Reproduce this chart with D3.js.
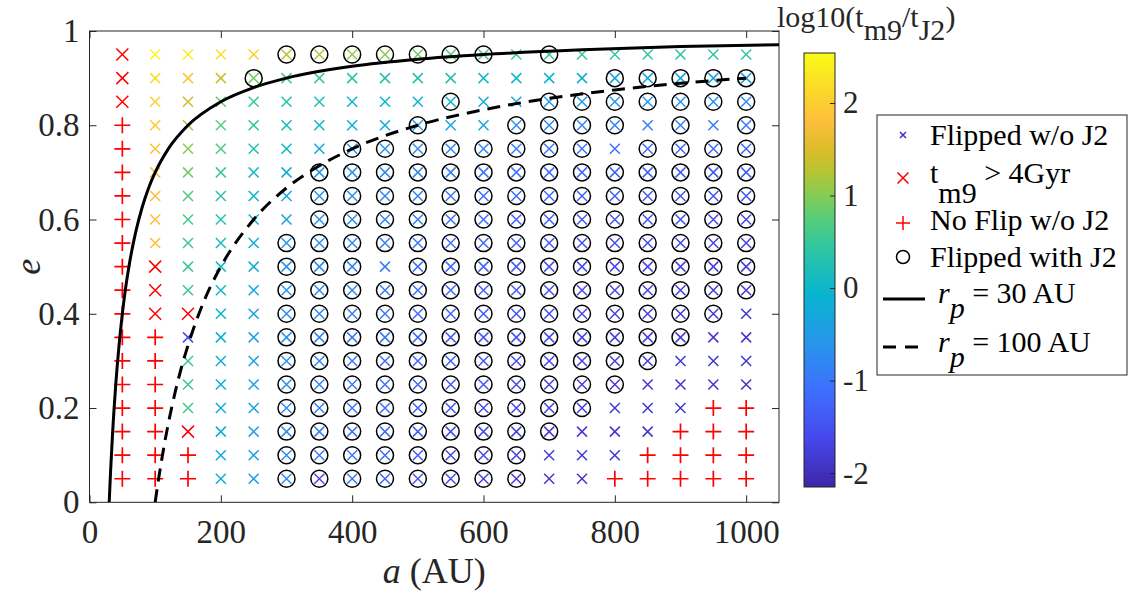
<!DOCTYPE html>
<html>
<head>
<meta charset="utf-8">
<script src="https://cdn.jsdelivr.net/npm/d3@7"></script>
<style>
  body { margin: 0; background: #fff; }
  svg { display: block; font-family: "Liberation Serif", "Times New Roman", serif; }
  .axis text { fill: #262626; }
  .axis line { stroke: #262626; }
</style>
</head>
<body>
<svg id="chart" width="1133" height="594"></svg>
<script>
// semi-major axis (AU) columns and eccentricity rows
var aValues = [50, 100, 150, 200, 250, 300, 350, 400, 450, 500, 550, 600, 650, 700, 750, 800, 850, 900, 950, 1000];
var eValues = [0.95, 0.90, 0.85, 0.80, 0.75, 0.70, 0.65, 0.60, 0.55, 0.50, 0.45, 0.40, 0.35, 0.30, 0.25, 0.20, 0.15, 0.10, 0.05];

// P = no flip w/o J2, R = t_m9 > 4Gyr, x = flipped w/o J2, O = flipped w/o J2 and with J2
var markerRows = [
  "RxxxxOOOOOOOxOxxxxxx",
  "RxxxOxxxxxxxxxxOOOOO",
  "RxxxxxxxxxOxxOOOOOOO",
  "PxxxxxxxxOxxOOOOxOxO",
  "PxxxxxxOOOOOOOOxOOOO",
  "PxxxxxOOOOOOOOOOOOOO",
  "PxxxxxOOOOOOOOOOOOOO",
  "PxxxxxOOOOOOOOOOOOOO",
  "PxxxxOOOOOOOOOOOOOOO",
  "PRxxxOOOxOOOOOOOOOOO",
  "PRxxxOOOOOOOOOOOOOOO",
  "PRRxxOOOOOOOOOOOOOOx",
  "PPxxxOOOOOOOOOOOOOxx",
  "PPxxxOOOOOOOOOOOOxxx",
  "PPxxxOOOOOOOOOOOxxxx",
  "PPxxxOOOOOOOOOOxxxPP",
  "PPRxxOOOOOOOOOxxxPPP",
  "PPPxxOOOOOOOOxxxPPPP",
  "PPPxxOOOOOOOOxxPPPPP"
];

// log10(t_m9 / t_J2), one row per eccentricity (null where marker is red)
var logRatio = [
  [null, 2.5, 2.4, 2.2, 2.0, 1.3, 1.2, 1.1, 1.0, 0.85, 0.7, 0.6, 0.55, 0.5, 0.45, 0.45, 0.45, 0.4, 0.4, 0.4],
  [null, 2.15, 1.9, 1.4, 0.9, 0.6, 0.5, 0.35, 0.3, 0.3, 0.25, 0.1, 0.0, -0.1, -0.2, -0.3, -0.35, -0.35, -0.4, -0.4],
  [null, 2.0, 1.4, 0.8, 0.5, 0.3, 0.2, 0.0, -0.05, -0.1, -0.2, -0.2, -0.35, -0.45, -0.5, -0.55, -0.6, -0.6, -0.65, -0.7],
  [null, 1.9, 1.2, 0.75, 0.45, 0.1, 0.0, -0.1, -0.15, -0.5, -0.3, -0.35, -0.7, -0.75, -0.8, -0.85, -0.9, -0.9, -0.95, -1.0],
  [null, 1.85, 1.0, 0.65, 0.3, 0.0, -0.3, -0.5, -0.6, -0.7, -0.75, -0.8, -0.9, -1.0, -1.05, -1.1, -1.15, -1.2, -1.2, -1.25],
  [null, 1.8, 0.9, 0.55, 0.1, -0.2, -0.5, -0.6, -0.7, -0.8, -0.9, -1.0, -1.05, -1.1, -1.2, -1.25, -1.3, -1.35, -1.4, -1.4],
  [null, 1.8, 0.7, 0.4, 0.0, -0.35, -0.6, -0.7, -0.8, -0.9, -1.0, -1.1, -1.15, -1.2, -1.3, -1.35, -1.4, -1.45, -1.5, -1.5],
  [null, 1.8, 0.6, 0.3, -0.05, -0.4, -0.65, -0.75, -0.85, -0.95, -1.05, -1.15, -1.25, -1.3, -1.4, -1.45, -1.5, -1.55, -1.6, -1.6],
  [null, 1.8, 0.55, 0.15, -0.15, -0.55, -0.7, -0.8, -0.9, -1.0, -1.1, -1.2, -1.3, -1.4, -1.5, -1.55, -1.6, -1.65, -1.7, -1.7],
  [null, null, 0.5, 0.1, -0.2, -0.6, -0.75, -0.85, -0.95, -1.05, -1.15, -1.25, -1.35, -1.45, -1.55, -1.6, -1.65, -1.7, -1.75, -1.8],
  [null, null, 0.5, 0.05, -0.25, -0.6, -0.8, -0.9, -1.0, -1.1, -1.2, -1.3, -1.4, -1.5, -1.6, -1.65, -1.7, -1.75, -1.8, -1.85],
  [null, null, null, -0.1, -0.35, -0.65, -0.8, -0.9, -1.0, -1.15, -1.25, -1.35, -1.45, -1.55, -1.6, -1.7, -1.75, -1.8, -1.85, -1.9],
  [null, null, -1.6, -0.15, -0.4, -0.65, -0.8, -0.95, -1.05, -1.2, -1.3, -1.4, -1.5, -1.6, -1.65, -1.7, -1.75, -1.8, -1.85, -1.9],
  [null, null, 0.5, -0.15, -0.4, -0.65, -0.8, -0.95, -1.1, -1.2, -1.35, -1.45, -1.55, -1.65, -1.7, -1.75, -1.8, -1.85, -1.9, -1.9],
  [null, null, 0.5, -0.15, -0.4, -0.7, -0.8, -0.95, -1.1, -1.25, -1.4, -1.5, -1.6, -1.7, -1.75, -1.8, -1.85, -1.9, -1.9, -1.95],
  [null, null, 0.6, -0.15, -0.4, -0.7, -0.85, -1.0, -1.15, -1.3, -1.45, -1.55, -1.65, -1.75, -1.8, -1.85, -1.9, -1.9, null, null],
  [null, null, null, -0.2, -0.4, -0.7, -0.85, -1.0, -1.15, -1.3, -1.5, -1.6, -1.7, -1.8, -1.85, -1.9, -1.9, null, null, null],
  [null, null, null, -0.2, -0.45, -0.7, -0.9, -1.0, -1.2, -1.35, -1.55, -1.65, -1.75, -1.8, -1.85, -1.9, null, null, null, null],
  [null, null, null, -0.2, -0.45, -0.7, -1.6, -1.0, -1.25, -1.4, -1.55, -1.7, -1.8, -1.85, -1.9, null, null, null, null, null]
];

// pericentre curves: [a, e]
var rp30 = [[30, 0], [32, 0.0625], [35, 0.143], [40, 0.25], [45, 0.333], [50, 0.4], [55, 0.455], [60, 0.5],
  [70, 0.571], [80, 0.625], [90, 0.667], [100, 0.7], [120, 0.75], [150, 0.8], [200, 0.85], [250, 0.88],
  [300, 0.9], [400, 0.925], [500, 0.94], [600, 0.95], [750, 0.96], [900, 0.967], [1050, 0.971]];
var rp100 = [[100, 0], [105, 0.048], [110, 0.091], [120, 0.167], [130, 0.231], [140, 0.286], [150, 0.333],
  [175, 0.429], [200, 0.5], [250, 0.6], [300, 0.667], [350, 0.714], [400, 0.75], [500, 0.8], [600, 0.833],
  [700, 0.857], [800, 0.875], [900, 0.889], [1000, 0.9]];

var xTicks = [0, 200, 400, 600, 800, 1000];
var yTicks = [0, 0.2, 0.4, 0.6, 0.8, 1];
var cbarTicks = [-2, -1, 0, 1, 2];
var cbarDomain = [-2.15, 2.54];

// parula colour stops (position out of 63, colour)
var parulaPos = [0, 7, 14, 21, 28, 35, 39, 42, 46, 49, 53, 56, 63];
var parulaHex = ["#3e26a8", "#4747eb", "#3e6fff", "#2796eb", "#08b5d0", "#31c69f", "#57cc7a",
  "#81cc59", "#b9c431", "#dcbd29", "#febe3c", "#fccf30", "#f9fb15"];

var serif = '"Liberation Serif", "Times New Roman", serif';
var svg = d3.select('#chart');

var x = d3.scaleLinear().domain([0, 1050]).range([89.5, 779]);
var y = d3.scaleLinear().domain([0, 1]).range([502.3, 31]);

var color = d3.scaleLinear()
    .domain(parulaPos.map(function(p) { return cbarDomain[0] + p / 63 * (cbarDomain[1] - cbarDomain[0]); }))
    .range(parulaHex)
    .clamp(true);

// plot box
svg.append('rect')
    .attr('x', x(0)).attr('y', y(1))
    .attr('width', x(1050) - x(0)).attr('height', y(0) - y(1))
    .attr('fill', '#fff').attr('stroke', '#262626').attr('stroke-width', 1);

var fmt = function(d) { return String(d); };
function clean(size) {
  return function(g) {
    g.attr('font-family', serif).attr('font-size', size);
    g.selectAll('text').attr('font-family', serif).attr('font-size', size);
    g.select('.domain').remove();
  };
}

svg.append('g').attr('class', 'axis')
    .attr('transform', 'translate(0,' + y(0) + ')')
    .call(d3.axisBottom(x).tickValues(xTicks).tickFormat(fmt).tickSizeInner(-7).tickSizeOuter(0).tickPadding(17))
    .call(clean(33));
svg.append('g').attr('class', 'axis')
    .attr('transform', 'translate(0,' + y(1) + ')')
    .call(d3.axisTop(x).tickValues(xTicks).tickFormat('').tickSizeInner(-7).tickSizeOuter(0))
    .call(clean(33));
svg.append('g').attr('class', 'axis')
    .attr('transform', 'translate(' + x(0) + ',0)')
    .call(d3.axisLeft(y).tickValues(yTicks).tickFormat(fmt).tickSizeInner(-7).tickSizeOuter(0).tickPadding(10))
    .call(clean(33));
svg.append('g').attr('class', 'axis')
    .attr('transform', 'translate(' + x(1050) + ',0)')
    .call(d3.axisRight(y).tickValues(yTicks).tickFormat('').tickSizeInner(-7).tickSizeOuter(0))
    .call(clean(33));

// axis labels
svg.append('text')
    .attr('x', (x(0) + x(1050)) / 2).attr('y', 583)
    .attr('text-anchor', 'middle').attr('font-size', 36).attr('fill', '#262626')
    .call(function(t) {
      t.append('tspan').attr('font-style', 'italic').text('a');
      t.append('tspan').text(' (AU)');
    });
svg.append('text')
    .attr('transform', 'translate(40,' + ((y(0) + y(1)) / 2) + ') rotate(-90)')
    .attr('text-anchor', 'middle').attr('font-size', 36).attr('font-style', 'italic').attr('fill', '#262626')
    .text('e');

// grid markers
var cells = [];
eValues.forEach(function(e, i) {
  aValues.forEach(function(a, j) {
    cells.push({ a: a, e: e, code: markerRows[i][j], v: logRatio[i][j] });
  });
});

function crossPath(h) {
  return 'M' + (-h) + ',' + (-h) + 'L' + h + ',' + h + 'M' + (-h) + ',' + h + 'L' + h + ',' + (-h);
}
function plusPath(h) {
  return 'M' + (-h) + ',0L' + h + ',0M0,' + (-h) + 'L0,' + h;
}

var marks = svg.append('g').attr('class', 'marks');
var cell = marks.selectAll('g.cell')
    .data(cells)
  .enter().append('g')
    .attr('class', 'cell')
    .attr('transform', function(d) { return 'translate(' + x(d.a) + ',' + y(d.e) + ')'; });

cell.append('path')
    .attr('d', function(d) {
      if (d.code == 'P') return plusPath(8);
      if (d.code == 'R') return crossPath(6);
      return crossPath(5);
    })
    .attr('fill', 'none')
    .attr('stroke-width', function(d) { return d.code == 'P' ? 1.7 : 1.5; })
    .attr('stroke', function(d) {
      if (d.code == 'P' || d.code == 'R') return '#ff0000';
      return color(d.v);
    });

cell.filter(function(d) { return d.code == 'O'; })
  .append('circle')
    .attr('r', 8.5)
    .attr('fill', 'none')
    .attr('stroke', '#000')
    .attr('stroke-width', 1.5);

// pericentre curves
svg.append('clipPath').attr('id', 'plotclip')
  .append('rect')
    .attr('x', x(0)).attr('y', y(1))
    .attr('width', x(1050) - x(0)).attr('height', y(0) - y(1));

var line = d3.line()
    .x(function(d) { return x(d[0]); })
    .y(function(d) { return y(d[1]); })
    .curve(d3.curveMonotoneX);

svg.append('path')
    .datum(rp30)
    .attr('clip-path', 'url(#plotclip)')
    .attr('d', line)
    .attr('fill', 'none').attr('stroke', '#000').attr('stroke-width', 3);
svg.append('path')
    .datum(rp100)
    .attr('clip-path', 'url(#plotclip)')
    .attr('d', line)
    .attr('fill', 'none').attr('stroke', '#000').attr('stroke-width', 3)
    .attr('stroke-dasharray', '13,8');

// colorbar
var cbX = 804, cbW = 31;
var cy = d3.scaleLinear().domain(cbarDomain).range([487, 53]);
var defs = svg.append('defs');
var grad = defs.append('linearGradient')
    .attr('id', 'parula')
    .attr('x1', 0).attr('y1', 1).attr('x2', 0).attr('y2', 0);
grad.selectAll('stop')
    .data(parulaHex)
  .enter().append('stop')
    .attr('offset', function(d, i) { return parulaPos[i] / 63; })
    .attr('stop-color', function(d) { return d; });

svg.append('rect')
    .attr('x', cbX).attr('y', cy(cbarDomain[1]))
    .attr('width', cbW).attr('height', cy(cbarDomain[0]) - cy(cbarDomain[1]))
    .attr('fill', 'url(#parula)')
    .attr('stroke', '#262626').attr('stroke-width', 1);

svg.append('g').attr('class', 'axis')
    .attr('transform', 'translate(' + (cbX + cbW) + ',0)')
    .call(d3.axisRight(cy).tickValues(cbarTicks).tickFormat(fmt).tickSizeInner(-5).tickSizeOuter(0).tickPadding(8))
    .call(clean(31));

var cbTitle = svg.append('text')
    .attr('x', 777).attr('y', 27)
    .attr('font-size', 30).attr('fill', '#262626');
cbTitle.append('tspan').text('log10(t');
cbTitle.append('tspan').attr('dy', 13).text('m9');
cbTitle.append('tspan').attr('dy', -13).text('/t');
cbTitle.append('tspan').attr('dy', 13).text('J2');
cbTitle.append('tspan').attr('dy', -13).text(')');

// legend
var legend = svg.append('g').attr('class', 'legend');
legend.append('rect')
    .attr('x', 877).attr('y', 115).attr('width', 250).attr('height', 260)
    .attr('fill', '#fff').attr('stroke', '#262626').attr('stroke-width', 1);

var mx = 903, tx = 930;
legend.append('path')
    .attr('transform', 'translate(' + mx + ',135)')
    .attr('d', crossPath(3)).attr('stroke', color(-2)).attr('stroke-width', 1.5);
legend.append('path')
    .attr('transform', 'translate(' + mx + ',178)')
    .attr('d', crossPath(5.5)).attr('stroke', '#ff0000').attr('stroke-width', 1.5);
legend.append('path')
    .attr('transform', 'translate(' + mx + ',223)')
    .attr('d', plusPath(7)).attr('stroke', '#ff0000').attr('stroke-width', 1.5);
legend.append('circle')
    .attr('cx', mx).attr('cy', 257).attr('r', 6.5)
    .attr('fill', 'none').attr('stroke', '#000').attr('stroke-width', 1.5);
legend.append('line')
    .attr('x1', 883).attr('x2', 925).attr('y1', 299).attr('y2', 299)
    .attr('stroke', '#000').attr('stroke-width', 3);
legend.append('line')
    .attr('x1', 883).attr('x2', 918).attr('y1', 347).attr('y2', 347)
    .attr('stroke', '#000').attr('stroke-width', 3).attr('stroke-dasharray', '13,9');

var lt = function(yy) {
  return legend.append('text').attr('x', tx).attr('y', yy).attr('font-size', 30).attr('fill', '#000');
};
lt(145).text('Flipped w/o J2');
var t2 = lt(183);
t2.append('tspan').text('t');
t2.append('tspan').attr('dy', 20).text('m9');
t2.append('tspan').attr('dy', -20).text(' > 4Gyr');
lt(230).text('No Flip w/o J2');
lt(267).text('Flipped with J2');
[[303, ' = 30 AU'], [352, ' = 100 AU']].forEach(function(r) {
  var t = lt(r[0]).attr('x', 938);
  t.append('tspan').attr('font-style', 'italic').text('r');
  t.append('tspan').attr('font-style', 'italic').attr('dy', 15).text('p');
  t.append('tspan').attr('dy', -15).text(r[1]);
});
</script>
</body>
</html>
